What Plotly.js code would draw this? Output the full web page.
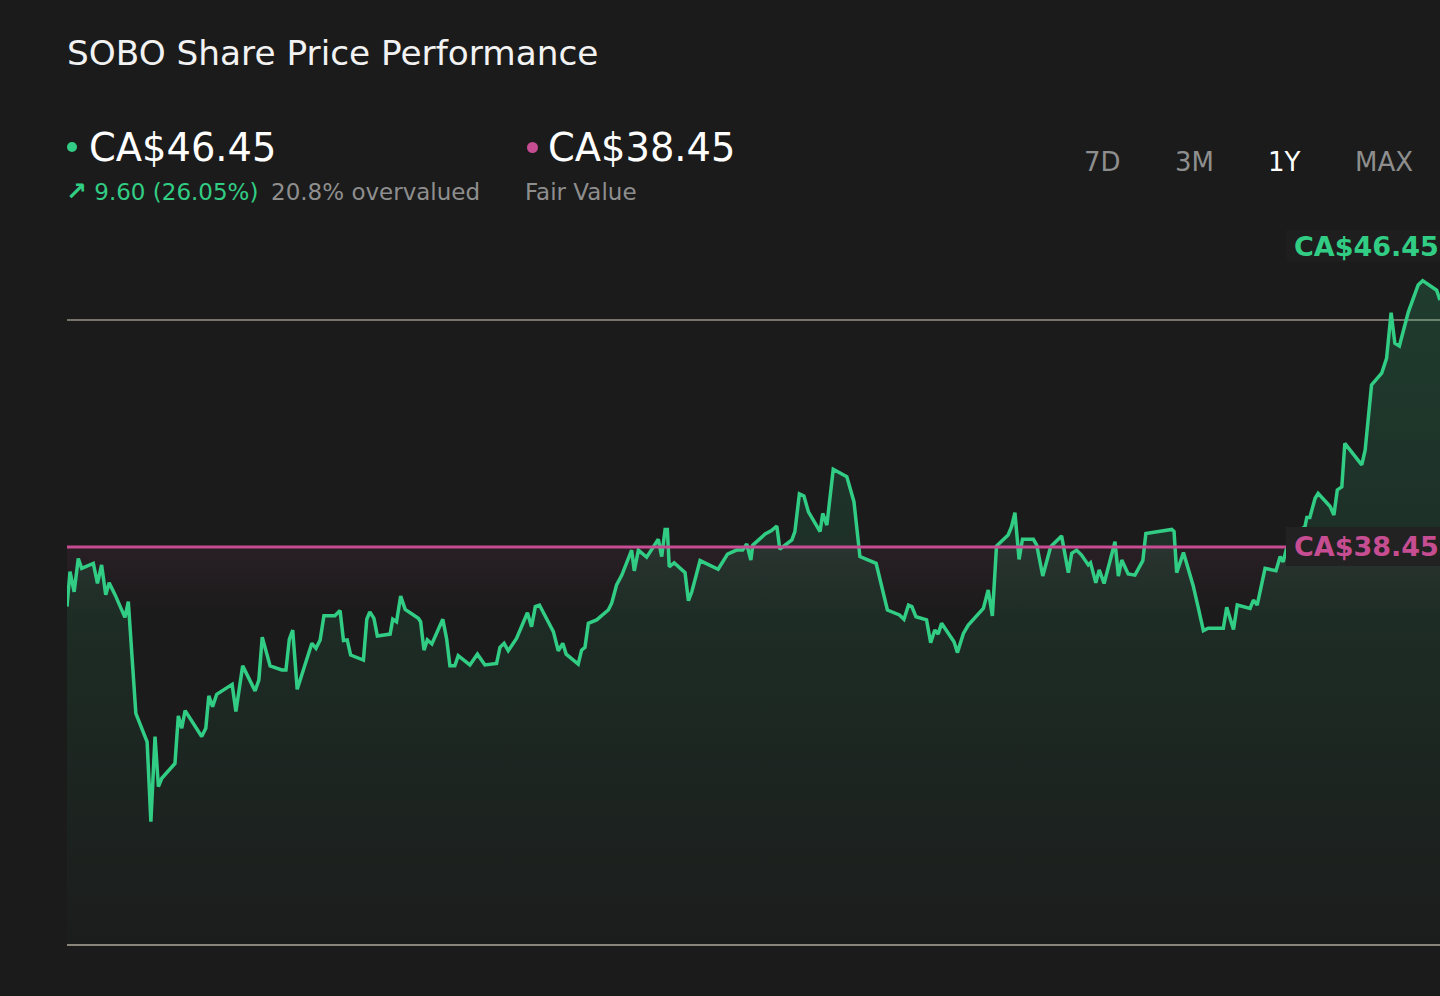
<!DOCTYPE html>
<html>
<head>
<meta charset="utf-8">
<script src="https://cdn.plot.ly/plotly-3.0.1.min.js"></script>
<style>
  html, body { margin: 0; padding: 0; background: #1b1b1b; }
  #chart { width: 1440px; height: 996px; }
</style>
</head>
<body>
<div id="chart"></div>
<script>
// one year of closing prices (days since start of window)
const dayOffsets = [
  0, 0.8, 1.9, 3.0, 3.9, 7.0, 8.1, 9.2, 10.3, 11.2,
  12.8, 14.1, 15.4, 16.3, 18.3, 21.3, 22.3, 23.4, 24.3, 25.2,
  28.7, 29.6, 30.5, 31.4, 35.8, 36.9, 37.7, 38.7, 39.8, 43.9,
  44.9, 46.7, 50.0, 51.0, 51.9, 54.0, 57.1, 58.2, 59.1, 60.0,
  61.2, 65.1, 66.2, 67.3, 68.3, 71.2, 72.6, 73.5, 74.5, 75.4,
  78.8, 79.7, 80.5, 81.6, 82.5, 85.9, 86.6, 87.6, 88.7, 89.9,
  93.4, 94.0, 94.9, 95.8, 97.0, 99.9, 100.9, 101.8, 103.1, 104.0,
  107.1, 109.1, 111.1, 114.2, 115.1, 116.2, 117.3, 119.5, 122.4, 123.5,
  124.5, 125.6, 129.3, 130.6, 131.8, 132.7, 135.9, 136.8, 137.7, 138.6,
  140.8, 143.9, 144.8, 146.1, 147.5, 150.1, 150.8, 151.9, 154.1,
  157.2, 158.1, 159.0, 159.6, 160.1, 161.4, 164.3, 165.2, 166.1, 168.3,
  173.1, 175.6, 178.0, 179.6, 180.7, 181.8, 182.3, 185.6, 187.3, 188.7,
  189.5, 192.7, 193.5, 194.7, 195.9, 197.1, 200.2, 200.9, 202.0, 203.7,
  207.3, 209.2, 210.8, 215.1, 218.1, 221.3, 222.5, 223.7, 224.6, 225.7,
  228.5, 229.6, 230.7, 231.6, 232.5, 235.8, 236.7, 238.3, 239.6, 243.6,
  244.9, 246.0, 247.1, 250.2, 251.1, 252.0, 253.1, 254.0, 256.9, 257.8,
  259.4, 261.5, 264.4, 266.2, 267.1, 268.4, 269.7, 271.5, 272.1, 273.5,
  274.4, 275.7, 278.6, 279.5, 280.4, 282.1, 283.9, 286.0, 286.8, 290.1,
  293.7, 294.3, 295.0, 296.8, 299.4, 300.7, 302.1, 303.4, 307.4, 308.3,
  310.1, 311.1, 314.5, 315.4, 316.4, 318.5, 321.4, 322.5, 323.3, 324.1,
  325.1, 327.8, 329.1, 329.6, 330.4, 331.8, 332.6, 335.8, 336.8, 337.7,
  338.9, 339.7, 344.2, 345.1, 346.8, 349.5, 350.8, 352.0, 353.0, 354.2,
  356.6, 359.2, 360.4, 364.1, 365.0,
];

const prices = [
  36.52, 37.65, 37.00, 38.08, 37.76, 37.92, 37.27, 37.87, 36.90, 37.29,
  36.90, 36.52, 36.17, 36.68, 33.06, 32.14, 29.55, 32.31, 30.69, 30.96,
  31.44, 32.98, 32.58, 33.15, 32.31, 32.58, 33.63, 33.28, 33.68, 34.00,
  33.12, 34.60, 33.79, 34.14, 35.53, 34.60, 34.47, 34.47, 35.46, 35.76,
  33.84, 35.33, 35.17, 35.44, 36.22, 36.22, 36.39, 35.42, 35.44, 34.95,
  34.79, 36.11, 36.35, 36.14, 35.57, 35.63, 36.11, 36.03, 36.86, 36.43,
  36.14, 36.03, 35.11, 35.44, 35.31, 36.11, 35.49, 34.60, 34.60, 34.93,
  34.63, 34.98, 34.63, 34.68, 35.20, 35.33, 35.09, 35.49, 36.32, 35.87,
  36.52, 36.57, 35.71, 35.09, 35.33, 34.98, 34.66, 35.11, 35.20, 35.98,
  36.09, 36.41, 36.63, 37.22, 37.54, 38.35, 37.68, 38.35, 38.12,
  38.70, 38.14, 39.02, 39.02, 37.81, 37.94, 37.62, 36.71, 37.00, 38.01,
  37.73, 38.22, 38.35, 38.35, 38.55, 38.03, 38.51, 38.87, 38.98, 39.13,
  38.38, 38.68, 38.95, 40.17, 40.10, 39.59, 38.95, 39.54, 39.16, 40.97,
  40.73, 39.92, 38.14, 37.92, 36.41, 36.25, 36.11, 36.57, 36.52, 36.19,
  36.09, 35.35, 35.76, 35.63, 35.98, 35.38, 35.03, 35.65, 35.92, 36.46,
  37.06, 36.22, 38.48, 38.84, 39.11, 39.56, 38.05, 38.70, 38.70, 38.51,
  37.51, 38.46, 38.81, 37.62, 38.25, 38.35, 38.19, 37.87, 37.94, 37.29,
  37.71, 37.27, 38.62, 37.51, 38.03, 37.58, 37.54, 38.01, 38.89, 38.95,
  39.02, 38.95, 37.62, 38.27, 37.19, 36.50, 35.74, 35.82, 35.82, 36.50,
  35.78, 36.57, 36.46, 36.73, 36.57, 37.76, 37.68, 38.14, 37.97, 38.35,
  38.68, 39.00, 39.11, 39.41, 39.41, 40.03, 40.19, 39.76, 39.49, 40.30,
  40.40, 41.81, 41.11, 41.59, 43.70, 44.08, 44.56, 46.04, 45.05, 44.96,
  46.07, 46.94, 47.08, 46.77, 46.45,
];

const lastPrice = 46.45;
const fairValue = 38.45;
const refLine = 45.8;
const rangeButtons = ["7D", "3M", "1Y", "MAX"];
const activeButton = "1Y";

const START = Date.UTC(2024, 5, 3);
const DAY = 86400000;
const xs = dayOffsets.map((d) => START + d * DAY);
const xEnd = START + 365 * DAY;
const yRange = [25.59, 48.72];

// page geometry
const W = 1440, H = 996, L = 67, R = 0, T = 230, B = 52;
const px = (p) => (p - L) / (W - L - R);
const py = (p) => (H - B - p) / (H - T - B);

const GREEN = "#32cd84";
const PINK = "#c64d91";
const GREY_TEXT = "#8e8e8e";
const FONT = "DejaVu Sans, sans-serif";

const traces = [
  // pink haze under the fair value line
  { x: [START, xEnd], y: [36.2, 36.2], mode: "lines", line: { width: 0 }, hoverinfo: "skip", showlegend: false },
  {
    x: [START, xEnd], y: [fairValue, fairValue], mode: "lines", line: { width: 0 },
    fill: "tonexty",
    fillgradient: { type: "vertical", start: 36.2, stop: fairValue,
      colorscale: [[0, "rgba(198,77,145,0)"], [1, "rgba(198,77,145,0.08)"]] },
    hoverinfo: "skip", showlegend: false,
  },
  // baseline for the price area
  { x: [START, xEnd], y: [yRange[0], yRange[0]], mode: "lines", line: { width: 0 }, hoverinfo: "skip", showlegend: false },
  {
    x: xs, y: prices, mode: "lines", name: "SOBO",
    line: { color: GREEN, width: 3.5 },
    fill: "tonexty",
    fillgradient: { type: "vertical", start: yRange[0], stop: yRange[1],
      colorscale: [[0, "rgba(50,205,132,0.01)"], [1, "rgba(50,205,132,0.2)"]] },
    showlegend: false,
  },
  { x: [START, xEnd], y: [fairValue, fairValue], mode: "lines", name: "Fair Value",
    line: { color: PINK, width: 3 }, showlegend: false },
];

// annotation text sits ~3px right of its anchor, so anchors are shifted left
const annotations = [
  { text: "CA$46.45", x: px(87), y: py(148), font: { size: 38.4, color: "#ffffff" } },
  { text: "CA$38.45", x: px(546), y: py(148), font: { size: 38.4, color: "#ffffff" } },
  { text: "<span style='font-size:25px'><b>↗</b></span> 9.60 (26.05%)", x: px(64), y: py(192),
    font: { size: 23, color: GREEN } },
  { text: "20.8% overvalued", x: px(269), y: py(192), font: { size: 23, color: GREY_TEXT } },
  { text: "Fair Value", x: px(523), y: py(192), font: { size: 23, color: GREY_TEXT } },
  { text: "<b>CA$" + lastPrice.toFixed(2) + "</b>", x: px(1292), y: py(246), font: { size: 27, color: GREEN } },
  { text: "<b>CA$" + fairValue.toFixed(2) + "</b>", x: px(1292), y: py(546), font: { size: 27, color: PINK } },
];

const buttonCentres = [1102, 1194, 1284, 1384];
rangeButtons.forEach((b, i) => {
  annotations.push({
    text: b, x: px(buttonCentres[i]), y: py(162), xanchor: "center",
    font: { size: 26, color: b === activeButton ? "#ffffff" : GREY_TEXT },
  });
});

for (const a of annotations) {
  a.xref = "paper"; a.yref = "paper"; a.showarrow = false;
  a.xanchor = a.xanchor || "left"; a.yanchor = "middle";
  a.font.family = FONT;
}

const shapes = [
  { type: "circle", xref: "paper", yref: "paper", x0: px(67), x1: px(77), y0: py(152), y1: py(142),
    fillcolor: GREEN, line: { width: 0 } },
  { type: "circle", xref: "paper", yref: "paper", x0: px(527), x1: px(538), y0: py(153), y1: py(142),
    fillcolor: PINK, line: { width: 0 } },
  { type: "rect", xref: "paper", yref: "paper", x0: px(1286), x1: px(1445), y0: py(262), y1: py(230),
    fillcolor: "#1e1e1e", line: { width: 0 }, layer: "above" },
  { type: "rect", xref: "paper", yref: "paper", x0: px(1286), x1: px(1445), y0: py(566), y1: py(527),
    fillcolor: "#222222", line: { width: 0 }, layer: "above" },
];

const layout = {
  width: W, height: H, autosize: false,
  margin: { l: L, r: R, t: T, b: B, pad: 0 },
  paper_bgcolor: "#1b1b1b",
  plot_bgcolor: "#1b1b1b",
  font: { family: FONT, color: "#f2f2f2" },
  title: {
    text: "SOBO Share Price Performance",
    font: { size: 34.3, color: "#f2f2f2", family: FONT },
    xref: "container", yref: "container", x: L / W, xanchor: "left", y: 1 - 53 / H, yanchor: "middle",
  },
  xaxis: {
    type: "date", range: [START, xEnd], showgrid: false, zeroline: false,
    showticklabels: false, ticks: "", showline: true, linecolor: "#8a857b", linewidth: 2, fixedrange: true,
  },
  yaxis: {
    range: yRange, tickvals: [refLine], showgrid: true, gridcolor: "#77736a", gridwidth: 2,
    zeroline: false, showticklabels: false, ticks: "", showline: false, fixedrange: true,
  },
  showlegend: false,
  hovermode: false,
  annotations,
  shapes,
};

Plotly.newPlot("chart", traces, layout, { staticPlot: true, displayModeBar: false });
</script>
</body>
</html>
